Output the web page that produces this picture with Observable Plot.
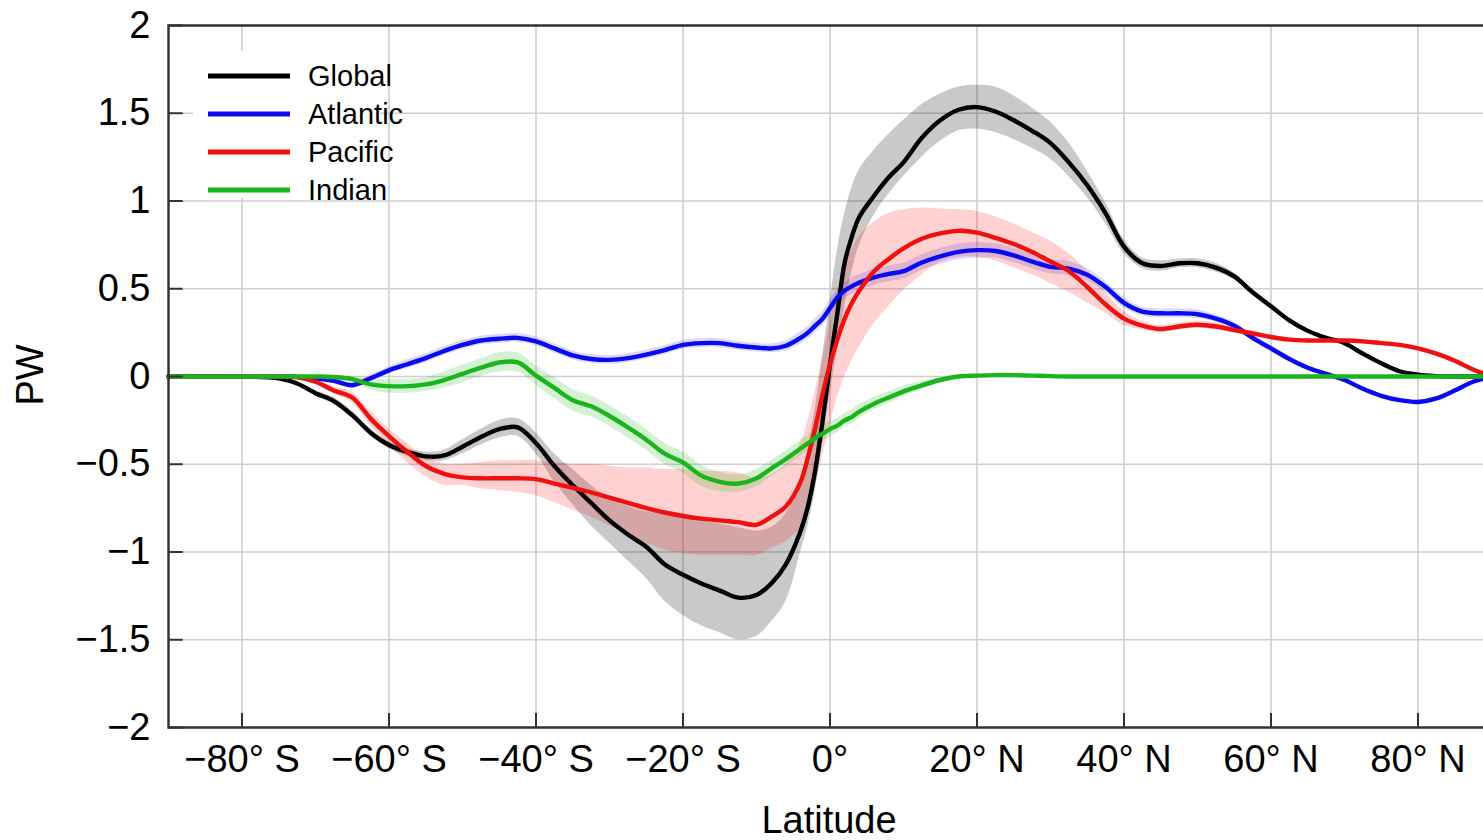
<!DOCTYPE html>
<html>
<head>
<meta charset="utf-8">
<script src="https://cdn.jsdelivr.net/npm/d3@7"></script>
<script src="https://cdn.jsdelivr.net/npm/@observablehq/plot@0.6"></script>
<style>
html, body { margin: 0; padding: 0; background: #fff; overflow: hidden; }
#chart svg { display: block; max-width: none !important; height: 840px !important; }
</style>
</head>
<body>
<div id="chart"></div>
<script>
// ---- data ----
const lat = [
  -90, -80, -75, -72.5,
  -70, -67.5, -65, -62.5, -60, -57.5, -55, -52.5, -50, -47.5,
  -45, -42.5, -40, -37.5, -35, -32.5, -30, -27.5, -25, -22.5,
  -20, -17.5, -15, -12.5, -10,
  -8, -6, -4, -3, -2, -1, 0, 1, 2, 3, 4, 6, 8,
  10, 12.5, 15, 17.5, 20, 22.5, 25, 27.5, 30, 32.5,
  35, 37.5, 40, 42.5, 45, 47.5, 50, 52.5, 55, 57.5,
  60, 62.5, 65, 67.5, 70, 72.5, 75, 77.5, 80, 82.5,
  85, 87.5, 90
];

const globalMean = [
  0, 0, -0.01, -0.04,
  -0.095, -0.14, -0.22, -0.32, -0.39, -0.43, -0.455, -0.45, -0.40, -0.345,
  -0.30, -0.29, -0.38, -0.51, -0.62, -0.72, -0.82, -0.90, -0.97, -1.07,
  -1.13, -1.18, -1.22, -1.26, -1.245,
  -1.18, -1.07, -0.88, -0.74, -0.53, -0.25, 0.07, 0.36, 0.65, 0.80, 0.91, 1.03, 1.135,
  1.22, 1.36, 1.46, 1.52, 1.535, 1.51, 1.46, 1.40, 1.33, 1.22,
  1.09, 0.93, 0.74, 0.645, 0.63, 0.645, 0.645, 0.62, 0.57, 0.48,
  0.40, 0.32, 0.26, 0.22, 0.19, 0.13, 0.075, 0.03, 0.01, 0.002,
  0, 0, 0
];
const globalLo = [
  0, 0, -0.02, -0.05,
  -0.11, -0.16, -0.24, -0.34, -0.41, -0.455, -0.48, -0.48, -0.44, -0.39,
  -0.35, -0.34, -0.44, -0.60, -0.73, -0.85, -0.95, -1.05, -1.15, -1.28,
  -1.36, -1.42, -1.46, -1.50, -1.48,
  -1.40, -1.28, -1.00, -0.85, -0.65, -0.38, -0.10, 0.15, 0.40, 0.60, 0.75, 0.92, 1.04,
  1.14, 1.25, 1.34, 1.40, 1.41, 1.39, 1.35, 1.30, 1.24, 1.14,
  1.02, 0.87, 0.70, 0.615, 0.60, 0.62, 0.62, 0.595, 0.55, 0.465,
  0.39, 0.31, 0.25, 0.21, 0.18, 0.12, 0.065, 0.02, 0.0, -0.005,
  -0.005, -0.005, -0.005
];
const globalHi = [
  0, 0, 0, -0.03,
  -0.08, -0.12, -0.20, -0.30, -0.37, -0.41, -0.43, -0.42, -0.36, -0.30,
  -0.25, -0.24, -0.32, -0.44, -0.53, -0.62, -0.70, -0.74, -0.77, -0.78,
  -0.80, -0.82, -0.84, -0.86, -0.88,
  -0.86, -0.78, -0.60, -0.42, -0.18, 0.12, 0.42, 0.72, 0.93, 1.08, 1.18, 1.29, 1.38,
  1.46, 1.55, 1.61, 1.65, 1.66, 1.65, 1.60, 1.53, 1.45, 1.33,
  1.17, 0.99, 0.78, 0.675, 0.66, 0.67, 0.67, 0.645, 0.59, 0.495,
  0.41, 0.33, 0.27, 0.23, 0.20, 0.14, 0.085, 0.04, 0.02, 0.009,
  0.005, 0.005, 0.005
];

const atlanticMean = [
  0, 0, 0, -0.002,
  -0.01, -0.025, -0.05, -0.01, 0.035, 0.07, 0.105, 0.145, 0.18, 0.205,
  0.215, 0.22, 0.20, 0.16, 0.12, 0.10, 0.095, 0.105, 0.125, 0.15,
  0.18, 0.19, 0.19, 0.175, 0.165,
  0.16, 0.175, 0.22, 0.25, 0.29, 0.33, 0.39, 0.45, 0.49, 0.515, 0.535, 0.565, 0.585,
  0.60, 0.65, 0.685, 0.71, 0.72, 0.715, 0.69, 0.655, 0.625, 0.615,
  0.58, 0.51, 0.42, 0.37, 0.36, 0.36, 0.355, 0.33, 0.29, 0.22,
  0.16, 0.10, 0.05, 0.015, -0.02, -0.07, -0.11, -0.135, -0.145, -0.125,
  -0.08, -0.03, 0
];
const atlanticErr = [
  0, 0, 0.003, 0.005,
  0.01, 0.012, 0.015, 0.02, 0.02, 0.025, 0.025, 0.025, 0.025, 0.025,
  0.025, 0.025, 0.025, 0.025, 0.025, 0.025, 0.025, 0.025, 0.025, 0.025,
  0.025, 0.025, 0.025, 0.025, 0.025,
  0.025, 0.03, 0.035, 0.035, 0.04, 0.04, 0.045, 0.045, 0.045, 0.045, 0.045, 0.045, 0.045,
  0.045, 0.045, 0.045, 0.045, 0.045, 0.04, 0.04, 0.04, 0.04, 0.04,
  0.035, 0.03, 0.03, 0.025, 0.025, 0.025, 0.025, 0.02, 0.02, 0.015,
  0.015, 0.01, 0.01, 0.01, 0.01, 0.01, 0.01, 0.01, 0.01, 0.01,
  0.01, 0.01, 0.005
];

const pacificMean = [
  0, 0, 0, -0.005,
  -0.03, -0.08, -0.12, -0.24, -0.34, -0.43, -0.51, -0.555, -0.575, -0.58,
  -0.58, -0.58, -0.585, -0.61, -0.635, -0.66, -0.69, -0.72, -0.75, -0.775,
  -0.795, -0.81, -0.82, -0.83, -0.845,
  -0.80, -0.74, -0.60, -0.46, -0.29, -0.10, 0.07, 0.21, 0.33, 0.42, 0.49, 0.60, 0.67,
  0.73, 0.785, 0.815, 0.83, 0.82, 0.79, 0.755, 0.71, 0.655, 0.60,
  0.51, 0.41, 0.33, 0.29, 0.27, 0.285, 0.295, 0.285, 0.265, 0.245,
  0.225, 0.21, 0.205, 0.205, 0.205, 0.20, 0.19, 0.18, 0.16, 0.13,
  0.09, 0.04, 0
];
const pacificLo = [
  0, 0, -0.003, -0.01,
  -0.04, -0.10, -0.15, -0.28, -0.39, -0.49, -0.57, -0.62, -0.62, -0.64,
  -0.65, -0.66, -0.68, -0.72, -0.76, -0.80, -0.85, -0.90, -0.95, -0.99,
  -1.01, -1.02, -1.02, -1.02, -1.02,
  -0.98, -0.94, -0.86, -0.76, -0.62, -0.45, -0.28, -0.12, 0.00, 0.09, 0.17, 0.30, 0.40,
  0.49, 0.58, 0.65, 0.68, 0.68, 0.66, 0.62, 0.58, 0.53, 0.48,
  0.42, 0.36, 0.29, 0.265, 0.25, 0.265, 0.275, 0.265, 0.25, 0.23,
  0.215, 0.20, 0.195, 0.195, 0.195, 0.19, 0.18, 0.17, 0.15, 0.12,
  0.08, 0.03, -0.005
];
const pacificHi = [
  0, 0, 0.003, 0.0,
  -0.02, -0.06, -0.09, -0.20, -0.30, -0.38, -0.46, -0.50, -0.50, -0.49,
  -0.48, -0.48, -0.48, -0.49, -0.50, -0.50, -0.51, -0.52, -0.52, -0.53,
  -0.53, -0.54, -0.54, -0.55, -0.58,
  -0.56, -0.50, -0.38, -0.25, -0.08, 0.10, 0.30, 0.48, 0.62, 0.72, 0.80, 0.88, 0.93,
  0.95, 0.96, 0.955, 0.95, 0.94, 0.91, 0.87, 0.82, 0.77, 0.70,
  0.60, 0.48, 0.37, 0.315, 0.29, 0.305, 0.315, 0.305, 0.28, 0.26,
  0.235, 0.22, 0.215, 0.215, 0.215, 0.21, 0.20, 0.19, 0.17, 0.14,
  0.10, 0.05, 0.005
];

const indianMean = [
  0, 0, 0, 0,
  0, -0.003, -0.015, -0.045, -0.055, -0.055, -0.045, -0.02, 0.015, 0.05,
  0.08, 0.08, 0.005, -0.065, -0.135, -0.17, -0.225, -0.29, -0.36, -0.44,
  -0.49, -0.565, -0.60, -0.61, -0.58,
  -0.525, -0.47, -0.41, -0.38, -0.35, -0.325, -0.30, -0.28, -0.25, -0.23, -0.20, -0.155, -0.12,
  -0.085, -0.05, -0.02, 0.0, 0.005, 0.008, 0.008, 0.005, 0.002, 0,
  0, 0, 0, 0, 0, 0, 0, 0, 0, 0,
  0, 0, 0, 0, 0, 0, 0, 0, 0, 0,
  0, 0, 0
];
const indianErr = [
  0, 0, 0, 0,
  0.003, 0.006, 0.015, 0.03, 0.04, 0.04, 0.04, 0.045, 0.05, 0.05,
  0.055, 0.055, 0.055, 0.06, 0.06, 0.06, 0.06, 0.06, 0.06, 0.06,
  0.06, 0.06, 0.055, 0.05, 0.05,
  0.045, 0.045, 0.045, 0.045, 0.045, 0.045, 0.045, 0.04, 0.04, 0.04, 0.04, 0.035, 0.035,
  0.03, 0.025, 0.015, 0.008, 0.005, 0.004, 0.004, 0.003, 0.002, 0,
  0, 0, 0, 0, 0, 0, 0, 0, 0, 0,
  0, 0, 0, 0, 0, 0, 0, 0, 0, 0,
  0, 0, 0
];

const seriesNames = ["Global", "Atlantic", "Pacific", "Indian"];
const xTicks = [-80, -60, -40, -20, 0, 20, 40, 60, 80];
const yTicks = [-2, -1.5, -1, -0.5, 0, 0.5, 1, 1.5, 2];

// ---- styles ----
const lineColor = { Global: "#000000", Atlantic: "#0a0af0", Pacific: "#f01010", Indian: "#1cb41c" };
const bandColor = { Global: "#000000", Atlantic: "#2a2aff", Pacific: "#ff1a1a", Indian: "#22c022" };
const bandOpacity = { Global: 0.21, Atlantic: 0.18, Pacific: 0.2, Indian: 0.2 };

// ---- table ----
const table = {
  Global: lat.map((l, i) => ({ lat: l, v: globalMean[i], lo: globalLo[i], hi: globalHi[i] })),
  Atlantic: lat.map((l, i) => ({ lat: l, v: atlanticMean[i], lo: atlanticMean[i] - atlanticErr[i], hi: atlanticMean[i] + atlanticErr[i] })),
  Pacific: lat.map((l, i) => ({ lat: l, v: pacificMean[i], lo: pacificLo[i], hi: pacificHi[i] })),
  Indian: lat.map((l, i) => ({ lat: l, v: indianMean[i], lo: indianMean[i] - indianErr[i], hi: indianMean[i] + indianErr[i] }))
};

const fmtX = d => d === 0 ? "0°" : d < 0 ? `\u2212${-d}° S` : `${d}° N`;
const fmtY = d => d < 0 ? "\u2212" + String(-d) : String(d);
const curve = "catmull-rom";

const bands = seriesNames.map(s => Plot.areaY(table[s], {
  x: "lat", y1: "lo", y2: "hi", fill: bandColor[s], fillOpacity: bandOpacity[s], curve
}));
const lines = seriesNames.map(s => Plot.lineY(table[s], {
  x: "lat", y: "v", stroke: lineColor[s], strokeWidth: 4.4, curve
}));

const chart = Plot.plot({
  width: 1492,
  height: 840,
  marginLeft: 168,
  marginRight: 1,
  marginTop: 25,
  marginBottom: 113,
  x: { domain: [-90, 90] },
  y: { domain: [-2, 2] },
  style: { fontFamily: "'Liberation Sans', Arial, Helvetica, sans-serif", fontSize: "38px", color: "#000", background: "#fff", maxWidth: "none" },
  marks: [
    Plot.gridX(xTicks, { stroke: "#cfcfcf", strokeOpacity: 1, strokeWidth: 1.6 }),
    Plot.gridY(yTicks, { stroke: "#cfcfcf", strokeOpacity: 1, strokeWidth: 1.6 }),
    ...bands,
    ...lines,
    Plot.ruleX(xTicks, { y1: -2, y2: -1.92, stroke: "#333", strokeWidth: 2 }),
    Plot.ruleY(yTicks, { x1: -90, x2: -88, stroke: "#333", strokeWidth: 2 }),
    Plot.frame({ stroke: "#333", strokeWidth: 2.5 }),
    Plot.axisX(xTicks, { tickSize: 0, tickPadding: 18, tickFormat: fmtX, fontSize: 38, label: null }),
    Plot.axisY(yTicks, { tickSize: 0, tickPadding: 18, tickFormat: fmtY, fontSize: 38, label: null })
  ]
});

document.getElementById("chart").appendChild(chart);

// ---- axis titles and legend ----
const svg = d3.select(chart);
const font = "'Liberation Sans', Arial, Helvetica, sans-serif";
svg.append("text").text("Latitude")
  .attr("x", 829).attr("y", 833).attr("text-anchor", "middle")
  .attr("font-family", font).attr("font-size", 38).attr("fill", "#000");
svg.append("text").text("PW")
  .attr("transform", "translate(43,375) rotate(-90)").attr("text-anchor", "middle")
  .attr("font-family", font).attr("font-size", 38).attr("fill", "#000");

const leg = svg.append("g");
leg.append("rect").attr("x", 193).attr("y", 51).attr("width", 187).attr("height", 147).attr("fill", "#fff");
seriesNames.forEach((s, i) => {
  const y = 76 + i * 38;
  leg.append("line").attr("x1", 208).attr("x2", 290).attr("y1", y).attr("y2", y)
    .attr("stroke", lineColor[s]).attr("stroke-width", 5);
  leg.append("text").text(s).attr("x", 308).attr("y", y).attr("dy", "0.36em")
    .attr("text-anchor", "start")
    .attr("font-family", font).attr("font-size", 29).attr("fill", "#000");
});
</script>
</body>
</html>
